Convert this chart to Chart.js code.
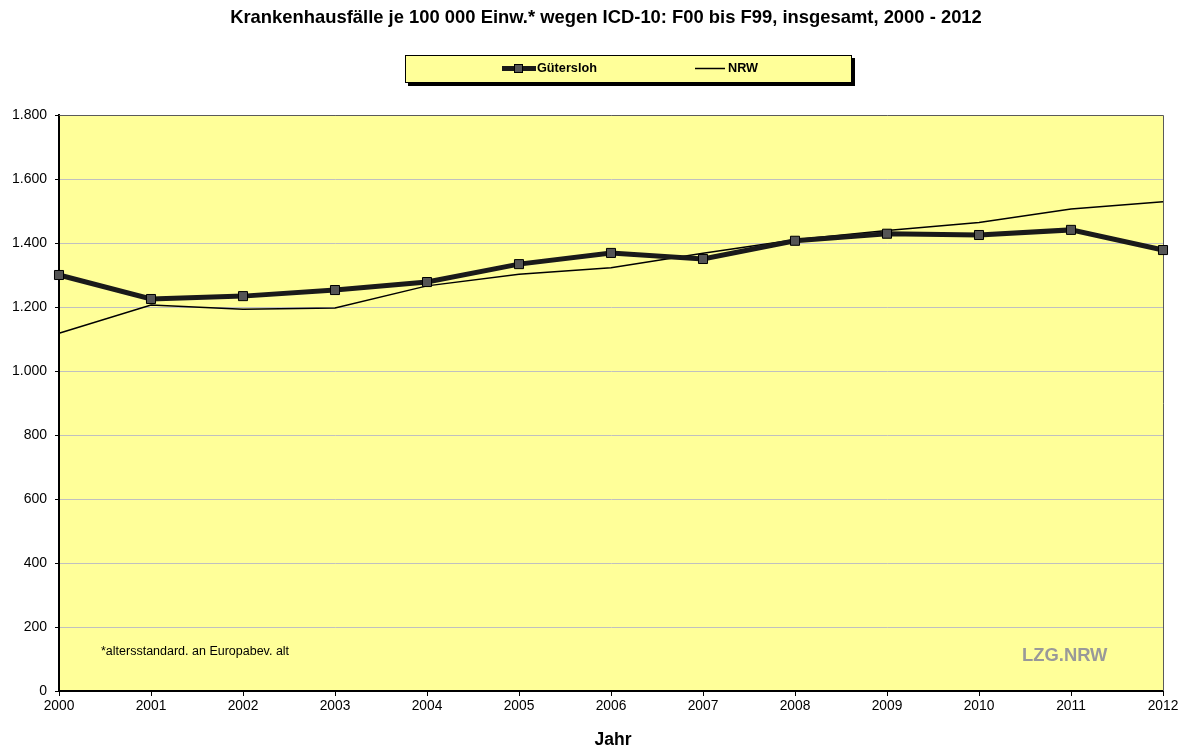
<!DOCTYPE html>
<html>
<head>
<meta charset="utf-8">
<script src="https://cdn.jsdelivr.net/npm/chart.js@4/dist/chart.umd.min.js"></script>
<style>
  html, body { margin: 0; padding: 0; background: #fff; }
  #wrap { width: 1186px; height: 748px; position: relative; }
</style>
</head>
<body>
<div id="wrap"><canvas id="c" width="1186" height="748"></canvas></div>
<script>
'use strict';
// Daten
var jahre = ['2000', '2001', '2002', '2003', '2004', '2005', '2006', '2007', '2008', '2009', '2010', '2011', '2012'];
var guetersloh = [1300, 1225, 1234, 1253, 1278, 1334, 1369, 1350, 1407, 1429, 1425, 1441, 1378];
var nrw = [1118, 1206, 1193, 1197, 1266, 1302, 1323, 1368, 1410, 1439, 1464, 1506, 1529];
var titel = 'Krankenhausfälle je 100 000 Einw.* wegen ICD-10: F00 bis F99, insgesamt, 2000 - 2012';
var fussnote = '*altersstandard. an Europabev. alt';
var quelle = 'LZG.NRW';

var FONT = '"Liberation Sans", Arial, sans-serif';

function fmt (v) {
    return String(v).replace(/\B(?=(\d{3})+(?!\d))/g, '.');
}

// Rahmen, Titel, Legende, Texte
var extras = {
    id: 'extras',
    beforeDatasetsDraw: function (chart) {
        var ctx = chart.ctx, a = chart.chartArea;
        ctx.save();
        // grauer Rahmen oben / rechts
        ctx.strokeStyle = '#5a5a5a';
        ctx.lineWidth = 1;
        ctx.beginPath();
        ctx.moveTo(a.left, a.top + 0.5);
        ctx.lineTo(a.right + 0.5, a.top + 0.5);
        ctx.lineTo(a.right + 0.5, a.bottom);
        ctx.stroke();
        ctx.fillStyle = '#000';
        ctx.font = '12.5px ' + FONT;
        ctx.textBaseline = 'middle';
        ctx.textAlign = 'left';
        ctx.fillText(fussnote, 101, 652);
        ctx.fillStyle = '#999999';
        ctx.font = 'bold 18.4px ' + FONT;
        ctx.fillText(quelle, 1022, 656);
        ctx.restore();
    },
    afterDraw: function (chart) {
        var ctx = chart.ctx;
        ctx.save();
        ctx.fillStyle = '#000';
        ctx.textAlign = 'center';
        ctx.textBaseline = 'middle';
        ctx.font = 'bold 18.4px ' + FONT;
        ctx.fillText(titel, 606, 18);
        ctx.font = 'bold 17.5px ' + FONT;
        ctx.fillText('Jahr', 613, 740);

        // Legende
        ctx.fillStyle = '#000';
        ctx.fillRect(408, 58, 447, 28);
        ctx.fillStyle = '#FFFF99';
        ctx.fillRect(405, 55, 447, 28);
        ctx.strokeStyle = '#000';
        ctx.lineWidth = 1;
        ctx.strokeRect(405.5, 55.5, 446, 27);

        ctx.strokeStyle = '#1a1a1a';
        ctx.lineWidth = 5;
        ctx.beginPath();
        ctx.moveTo(502, 68.5);
        ctx.lineTo(536, 68.5);
        ctx.stroke();
        ctx.fillStyle = '#555555';
        ctx.fillRect(514, 64, 9, 9);
        ctx.lineWidth = 1;
        ctx.strokeStyle = '#000';
        ctx.strokeRect(514.5, 64.5, 8, 8);

        ctx.lineWidth = 1.5;
        ctx.beginPath();
        ctx.moveTo(695, 68.5);
        ctx.lineTo(725, 68.5);
        ctx.stroke();

        ctx.fillStyle = '#000';
        ctx.font = 'bold 12.7px ' + FONT;
        ctx.textAlign = 'left';
        ctx.fillText('Gütersloh', 537, 68);
        ctx.fillText('NRW', 728, 68);
        ctx.restore();
    }
};

var hintergrund = {
    id: 'hintergrund',
    beforeDraw: function (chart) {
        var ctx = chart.ctx, a = chart.chartArea;
        ctx.save();
        ctx.fillStyle = '#FFFF99';
        ctx.fillRect(a.left, a.top, a.right - a.left, a.bottom - a.top);
        ctx.restore();
    }
};

new Chart(document.getElementById('c'), {
    type: 'line',
    data: {
        labels: jahre,
        datasets: [{
            label: 'Gütersloh',
            data: guetersloh,
            borderColor: '#1a1a1a',
            borderWidth: 5,
            pointStyle: 'rect',
            pointRadius: 6.4,
            pointBackgroundColor: '#555555',
            pointBorderColor: '#000',
            pointBorderWidth: 1,
            tension: 0,
            clip: false
        }, {
            label: 'NRW',
            data: nrw,
            borderColor: '#000',
            borderWidth: 1.5,
            pointRadius: 0,
            tension: 0,
            clip: false
        }]
    },
    options: {
        responsive: false,
        animation: false,
        layout: { padding: { top: 115, right: 23, left: 0, bottom: 0 } },
        plugins: {
            legend: { display: false },
            title: { display: false },
            tooltip: { enabled: false }
        },
        scales: {
            x: {
                offset: false,
                grid: { drawOnChartArea: false, tickLength: 5, color: '#000', tickColor: '#000' },
                border: { color: '#000', width: 2 },
                ticks: { color: '#000', font: { family: FONT, size: 13.8 }, padding: 2, maxRotation: 0 },
                afterFit: function (s) { s.height = 57; }
            },
            y: {
                min: 0,
                max: 1800,
                grid: { color: '#C0C0C0', lineWidth: 1, tickLength: 4, tickColor: '#000' },
                border: { color: '#000', width: 2 },
                ticks: {
                    stepSize: 200,
                    color: '#000',
                    font: { family: FONT, size: 14 },
                    padding: 8,
                    callback: function (v) { return fmt(v); }
                },
                afterFit: function (s) { s.width = 59; }
            }
        }
    },
    plugins: [hintergrund, extras]
});
</script>
</body>
</html>
